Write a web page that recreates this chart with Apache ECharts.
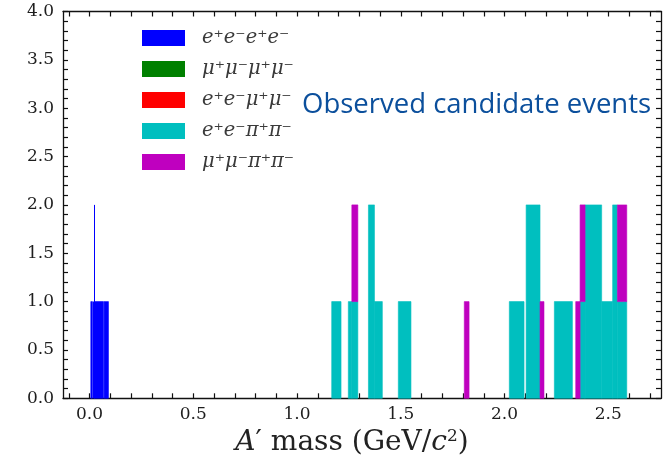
<!DOCTYPE html>
<html>
<head>
<meta charset="utf-8">
<script src="https://cdn.jsdelivr.net/npm/echarts@6/dist/echarts.min.js"></script>
<style>
  html, body { margin: 0; padding: 0; background: #fff; }
  #chart { width: 671px; height: 464px; }
</style>
</head>
<body>
<div id="chart"></div>
<script>
// Mass windows (GeV/c^2) of the stacked histogram columns
const segLo = [0.006, 0.016, 0.017, 0.022, 0.070,
               1.167, 1.247, 1.264, 1.344, 1.373, 1.488,
               1.806,
               2.023, 2.104, 2.171, 2.240, 2.343, 2.364, 2.388, 2.468, 2.521, 2.544];
const segHi = [0.014, 0.017, 0.022, 0.067, 0.091,
               1.212, 1.264, 1.293, 1.373, 1.411, 1.549,
               1.829,
               2.094, 2.171, 2.190, 2.327, 2.364, 2.388, 2.468, 2.521, 2.544, 2.589];

// Candidate counts per decay channel in each column
const countsEEEE   = [1, 1, 2, 1, 1,  0, 0, 0, 0, 0, 0,  0,  0, 0, 0, 0, 0, 0, 0, 0, 0, 0];
const countsMMMM   = [0, 0, 0, 0, 0,  0, 0, 0, 0, 0, 0,  0,  0, 0, 0, 0, 0, 0, 0, 0, 0, 0];
const countsEEMM   = [0, 0, 0, 0, 0,  0, 0, 0, 0, 0, 0,  0,  0, 0, 0, 0, 0, 0, 0, 0, 0, 0];
const countsEEPP   = [0, 0, 0, 0, 0,  1, 1, 1, 2, 1, 1,  0,  1, 2, 0, 1, 0, 1, 2, 1, 2, 1];
const countsMMPP   = [0, 0, 0, 0, 0,  0, 0, 1, 0, 0, 0,  1,  0, 0, 1, 0, 1, 1, 0, 0, 0, 1];

const channelNames = ['e⁺e⁻e⁺e⁻', 'μ⁺μ⁻μ⁺μ⁻', 'e⁺e⁻μ⁺μ⁻', 'e⁺e⁻π⁺π⁻', 'μ⁺μ⁻π⁺π⁻'];
const channelColors = ['#0000ff', '#008000', '#ff0000', '#00bfbf', '#bf00bf'];
const channelCounts = [countsEEEE, countsMMMM, countsEEMM, countsEEPP, countsMMPP];

// Axis ticks
const xLabelValues = [0.0, 0.5, 1.0, 1.5, 2.0, 2.5];
const xRange = [-0.128, 2.754];
const yRange = [0, 4];

const xMinorTicks = [];
for (let t = -1; t <= 27; t++) xMinorTicks.push(t / 10);

// Stack the channels column by column
const stackBase = segLo.map(() => 0);
const series = channelNames.map((name, k) => {
  const data = [];
  segLo.forEach((lo, i) => {
    const c = channelCounts[k][i];
    if (c > 0) {
      data.push([lo, segHi[i], stackBase[i], stackBase[i] + c]);
      stackBase[i] += c;
    }
  });
  return {
    name: name,
    type: 'custom',
    xAxisIndex: 0,
    yAxisIndex: 0,
    itemStyle: { color: channelColors[k] },
    encode: { x: [0, 1], y: [2, 3] },
    renderItem: function (params, api) {
      const p0 = api.coord([api.value(0), api.value(2)]);
      const p1 = api.coord([api.value(1), api.value(3)]);
      const w = p1[0] - p0[0];
      if (w < 1.5) {
        // very narrow column: draw as a crisp 1px line
        const xc = Math.round((p0[0] + p1[0]) / 2) + 0.5;
        return {
          type: 'line',
          shape: { x1: xc, y1: p0[1], x2: xc, y2: p1[1] },
          style: { stroke: channelColors[k], lineWidth: 1 }
        };
      }
      return {
        type: 'rect',
        shape: { x: p0[0], y: p1[1], width: w, height: p0[1] - p1[1] },
        style: { fill: channelColors[k], stroke: channelColors[k], lineWidth: 0.6 }
      };
    },
    data: data
  };
});

const labelFont = { fontFamily: 'DejaVu Serif', fontSize: 17, color: '#1e1e1e' };
const frameLine = { show: true, onZero: false, lineStyle: { color: '#111', width: 1.3 } };
const tickStyle = { lineStyle: { color: '#111', width: 1.2 } };

const chart = echarts.init(document.getElementById('chart'), null, { renderer: 'canvas' });
chart.setOption({
  animation: false,
  backgroundColor: '#fff',
  grid: { left: 63, right: 10, top: 11.5, bottom: 65.7, containLabel: false },
  legend: {
    orient: 'vertical',
    left: 137,
    top: 23,
    icon: 'rect',
    itemWidth: 43,
    itemHeight: 16,
    itemGap: 11,
    selectedMode: false,
    textStyle: {
      fontFamily: 'DejaVu Serif',
      fontStyle: 'italic',
      fontSize: 19.5,
      lineHeight: 19,
      color: '#3a3a3a',
      padding: [0, 0, 0, 12]
    },
    data: channelNames
  },
  xAxis: [
    {
      type: 'value', position: 'bottom', min: xRange[0], max: xRange[1],
      axisLine: frameLine,
      axisTick: { show: true, inside: true, length: 5, customValues: xMinorTicks, ...tickStyle },
      axisLabel: {
        show: true, margin: 8, customValues: xLabelValues,
        formatter: v => v.toFixed(1), ...labelFont
      },
      splitLine: { show: false },
      name: '{i|A}′ mass (GeV/{i|c}{sup|2})',
      nameLocation: 'middle',
      nameGap: 24,
      nameTextStyle: {
        fontFamily: 'DejaVu Serif', fontSize: 28, color: '#222',
        padding: [0, 20, 0, 0],
        rich: {
          i: { fontFamily: 'DejaVu Serif', fontStyle: 'italic', fontSize: 28, color: '#222' },
          sup: { fontFamily: 'DejaVu Serif', fontSize: 17, color: '#222', verticalAlign: 'bottom', padding: [0, 0, 13, 0] }
        }
      }
    },
    {
      type: 'value', position: 'top', min: xRange[0], max: xRange[1],
      axisLine: frameLine,
      axisTick: { show: true, inside: true, length: 5, customValues: xMinorTicks, ...tickStyle },
      axisLabel: { show: false },
      splitLine: { show: false }
    }
  ],
  yAxis: [
    {
      type: 'value', position: 'left', min: yRange[0], max: yRange[1], interval: 0.5,
      axisLine: frameLine,
      axisTick: { show: true, inside: true, length: 5, ...tickStyle },
      minorTick: { show: true, splitNumber: 5, length: 5, lineStyle: { color: '#111', width: 1.2 } },
      axisLabel: { show: true, margin: 9, formatter: v => v.toFixed(1), ...labelFont },
      splitLine: { show: false },
      minorSplitLine: { show: false }
    },
    {
      type: 'value', position: 'right', min: yRange[0], max: yRange[1], interval: 0.5,
      axisLine: frameLine,
      axisTick: { show: true, inside: true, length: 5, ...tickStyle },
      minorTick: { show: true, splitNumber: 5, length: 5, lineStyle: { color: '#111', width: 1.2 } },
      axisLabel: { show: false },
      splitLine: { show: false },
      minorSplitLine: { show: false }
    }
  ],
  graphic: [
    {
      type: 'text',
      left: 302,
      top: 91,
      z: 100,
      style: {
        text: 'Observed candidate events',
        fontFamily: 'Open Sans',
        fontSize: 27.5,
        fill: '#0b4f9c',
        backgroundColor: '#fff'
      }
    }
  ],
  series: series
});
</script>
</body>
</html>
